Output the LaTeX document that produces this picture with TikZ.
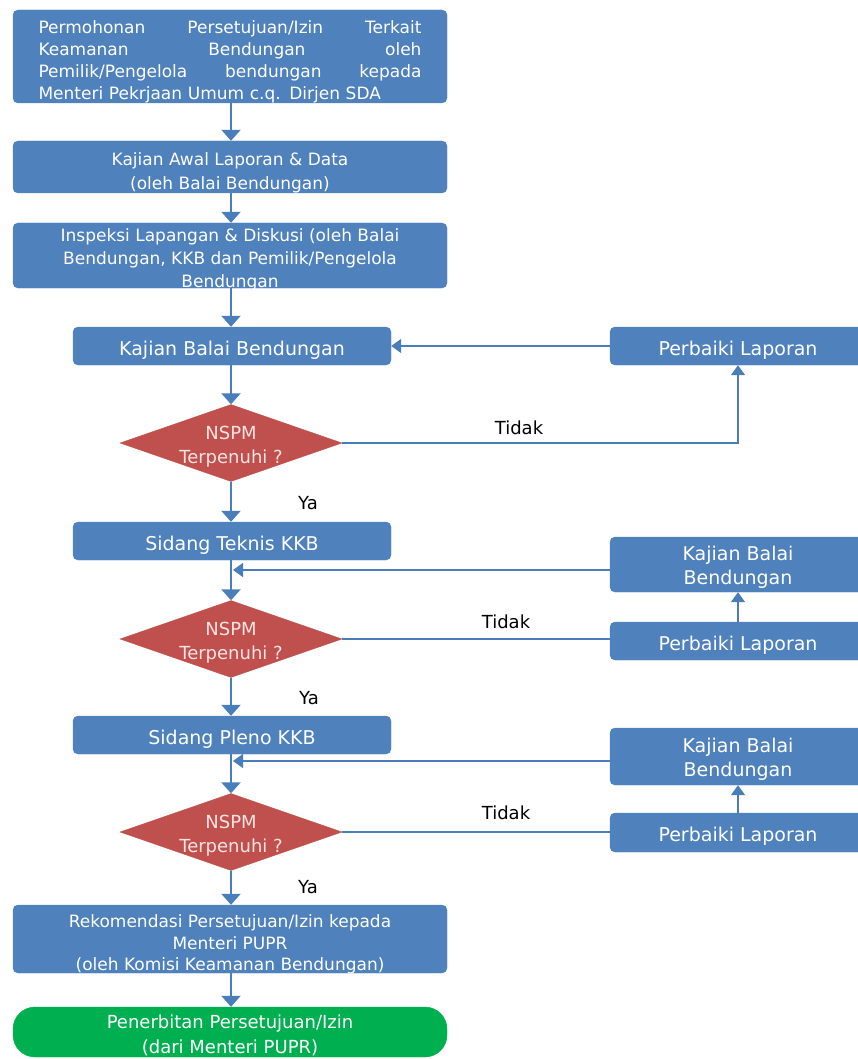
\documentclass[tikz,border=0pt]{standalone}
\usepackage{fontspec}
\setmainfont{DejaVu Sans}
\usetikzlibrary{shapes.geometric,arrows.meta}
\definecolor{boxblue}{HTML}{4F81BD}
\definecolor{lineblue}{HTML}{4A7EBB}
\definecolor{diared}{HTML}{C0504D}
\definecolor{endgreen}{HTML}{00B050}
\definecolor{diatext}{HTML}{F8E4E3}
\begin{document}
\begin{tikzpicture}[x=1pt,y=-1pt,
    box/.style={draw=boxblue, fill=boxblue, rounded corners=5pt, text=white,
      inner sep=0pt, align=center},
    widebox/.style={box, minimum width=434pt},
    leftbox/.style={box, minimum width=318pt, minimum height=38pt,
      text height=20pt, text depth=2pt, font=\fontsize{19}{24}\selectfont},
    rightbox/.style={box, minimum width=256pt, font=\fontsize{19}{24}\selectfont},
    nspm/.style={shape=diamond, draw=diared, fill=diared, text=diatext,
      inner sep=0pt, aspect=2.88, minimum width=222pt, minimum height=77pt,
      align=center, text height=40pt, text depth=0pt,
      font=\fontsize{18}{24}\selectfont},
    answer/.style={text=black, font=\fontsize{18}{22}\selectfont},
    flow/.style={draw=lineblue, line width=2.2pt,
      -{Triangle[width=19pt,length=11pt]}},
    back/.style={draw=lineblue, line width=1.6pt,
      -{Triangle[width=14pt,length=10pt]}},
    plain/.style={draw=lineblue, line width=1.6pt}]
  \useasboundingbox (0,0) rectangle (858,1059);
  \fill[white] (0,0) rectangle (858,1059);

  % Drawing main column
  \node[widebox, minimum height=93pt, text width=383pt, align=left,
    text height=22pt, text depth=68pt,
    font=\fontsize{17}{22}\selectfont] (permohonan) at (230,56.5)
    {Permohonan\hfill Persetujuan/Izin\hfill Terkait\\
     Keamanan\hfill Bendungan\hfill oleh\\
     Pemilik/Pengelola\hfill bendungan\hfill kepada\\
     Menteri Pekrjaan Umum c.q. Dirjen SDA};
  \node[widebox, minimum height=52pt, text height=48pt, text depth=3pt,
    font=\fontsize{17}{24}\selectfont] (kajianawal) at (230,167)
    {Kajian Awal Laporan \& Data\\(oleh Balai Bendungan)};
  \node[widebox, minimum height=65pt, text height=64pt, text depth=1pt,
    font=\fontsize{17}{22.5}\selectfont] (inspeksi) at (230,255.5)
    {Inspeksi Lapangan \& Diskusi (oleh Balai\\
     Bendungan, KKB dan Pemilik/Pengelola\\Bendungan};
  \node[leftbox] (kajianbalai) at (232,346) {Kajian Balai Bendungan};
  \node[nspm] (nspm1) at (231,443) {NSPM\\Terpenuhi ?};
  \node[leftbox] (teknis) at (232,541) {Sidang Teknis KKB};
  \node[nspm] (nspm2) at (231,639) {NSPM\\Terpenuhi ?};
  \node[leftbox] (pleno) at (232,735) {Sidang Pleno KKB};
  \node[nspm] (nspm3) at (231,832) {NSPM\\Terpenuhi ?};
  \node[widebox, minimum height=68pt, text height=64pt, text depth=1pt,
    font=\fontsize{17}{21.5}\selectfont] (rekomendasi) at (230,939)
    {Rekomendasi Persetujuan/Izin kepada\\Menteri PUPR\\
     (oleh Komisi Keamanan Bendungan)};
  \node[widebox, draw=endgreen, fill=endgreen, rounded corners=22pt,
    minimum height=50pt, text height=45pt, text depth=3pt,
    font=\fontsize{18}{25}\selectfont] (penerbitan) at (230,1032)
    {Penerbitan Persetujuan/Izin\\(dari Menteri PUPR)};

  % Drawing right column
  \node[rightbox, minimum height=38pt, text height=20pt, text depth=2pt]
    (perbaiki1) at (738,346) {Perbaiki Laporan};
  \node[rightbox, minimum height=55pt, text height=42pt, text depth=3pt]
    (kajian2) at (738,564.5) {Kajian Balai\\Bendungan};
  \node[rightbox, minimum height=38pt, text height=20pt, text depth=2pt]
    (perbaiki2) at (738,641) {Perbaiki Laporan};
  \node[rightbox, minimum height=57pt, text height=42pt, text depth=3pt]
    (kajian3) at (738,756.5) {Kajian Balai\\Bendungan};
  \node[rightbox, minimum height=39pt, text height=20pt, text depth=2pt]
    (perbaiki3) at (738,832.5) {Perbaiki Laporan};

  % Drawing main flow
  \draw[flow] (permohonan.south -| nspm1) -- (kajianawal.north -| nspm1);
  \draw[flow] (kajianawal.south -| nspm1) -- (inspeksi.north -| nspm1);
  \draw[flow] (inspeksi.south -| nspm1) -- (kajianbalai.north -| nspm1);
  \draw[flow] (kajianbalai.south -| nspm1) -- (nspm1.north);
  \draw[flow] (nspm1.south) -- (teknis.north -| nspm1);
  \draw[flow] (teknis.south -| nspm2) -- (nspm2.north);
  \draw[flow] (nspm2.south) -- (pleno.north -| nspm2);
  \draw[flow] (pleno.south -| nspm3) -- (nspm3.north);
  \draw[flow] (nspm3.south) -- (rekomendasi.north -| nspm3);
  \draw[flow] (rekomendasi.south -| nspm3) -- (penerbitan.north -| nspm3);

  % Drawing loop 1
  \draw[back] (nspm1.east) -| (perbaiki1.south);
  \draw[back] (perbaiki1.west) -- (kajianbalai.east);

  % Drawing loop 2
  \coordinate (join2) at (233,570);
  \draw[plain] (nspm2.east) -- (perbaiki2.west |- nspm2.east);
  \draw[back] (perbaiki2.north) -- (kajian2.south);
  \draw[back] (kajian2.west |- join2) -- (join2);

  % Drawing loop 3
  \coordinate (join3) at (233,761);
  \draw[plain] (nspm3.east) -- (perbaiki3.west |- nspm3.east);
  \draw[back] (perbaiki3.north) -- (kajian3.south);
  \draw[back] (kajian3.west |- join3) -- (join3);

  % Marking answers
  \node[answer] (ya1) at (308,503) {Ya};
  \node[answer] (tidak1) at (519,428) {Tidak};
  \node[answer] (ya2) at (309,698) {Ya};
  \node[answer] (tidak2) at (506,622) {Tidak};
  \node[answer] (ya3) at (308,887) {Ya};
  \node[answer] (tidak3) at (506,813) {Tidak};
\end{tikzpicture}
\end{document}
